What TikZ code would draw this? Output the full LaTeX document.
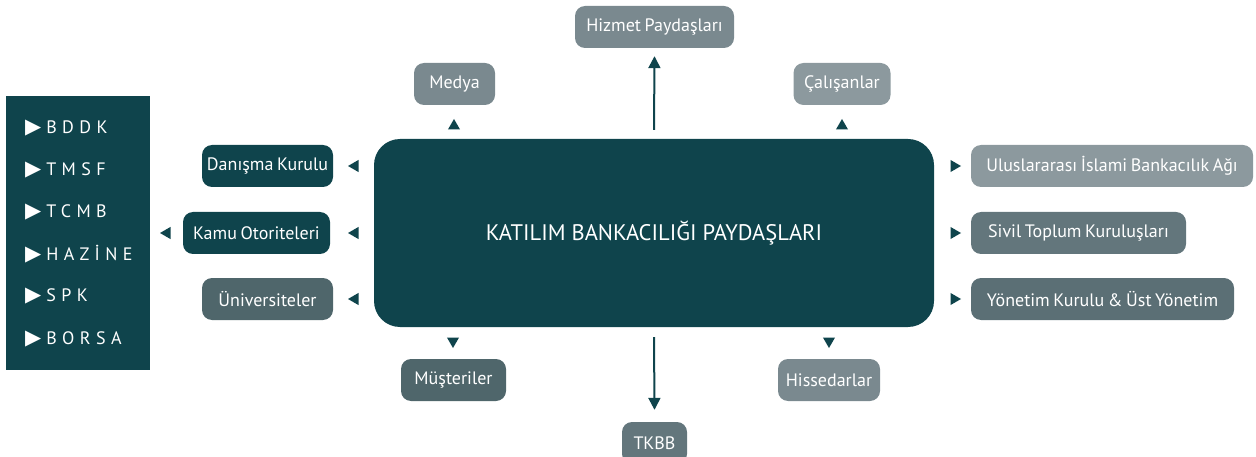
\documentclass[tikz,border=0pt]{standalone}
\usepackage{fontspec}
\setmainfont{PT Sans}
\newfontfamily\symfont{DejaVu Sans}
\usetikzlibrary{shapes.geometric,arrows.meta,calc}
\definecolor{kteal}{HTML}{0F444C}
\definecolor{gA}{HTML}{7A898F}
\definecolor{gB}{HTML}{8C999E}
\definecolor{gC}{HTML}{63767C}
\definecolor{gD}{HTML}{5B6F75}
\definecolor{gE}{HTML}{4F666B}
\newcommand{\boxfont}{\fontsize{18}{20}\selectfont\spaceskip=3.6pt plus 1pt minus 0.5pt\relax}
\begin{document}
\begin{tikzpicture}[x=1pt,y=-1pt,
  box/.style={rounded corners=10pt, minimum height=42pt, inner sep=0pt, text=white,
    font=\boxfont, anchor=center},
  tri/.style={regular polygon, regular polygon sides=3, fill=kteal, minimum size=14pt, inner sep=0pt},
  up/.style={tri, shape border rotate=0},
  dn/.style={tri, shape border rotate=180},
  lf/.style={tri, shape border rotate=90},
  rt/.style={tri, shape border rotate=-90},
  item/.style={anchor=west, text=white, inner sep=0pt, font=\fontsize{18}{20}\selectfont},
  link/.style={draw=kteal, line width=2pt, -{Triangle[length=12pt,width=12pt]}}
]
\useasboundingbox (0,0) rectangle (1256,457);

% left panel
\node[fill=kteal, minimum width=144pt, minimum height=274pt, inner sep=0pt] (panel) at (78,233) {};
\newcommand{\bul}{\raisebox{0.5pt}{\symfont\fontsize{21}{21}\selectfont ▶}\hspace{5pt}}
\newcommand{\spc}[1]{{\addfontfeature{LetterSpace=30}#1}}
\node[item] (bddk)   at (25,128) {\bul\spc{BDDK}};
\node[item] (tmsf)   at (25,170) {\bul\spc{TMSF}};
\node[item] (tcmb)   at (25,212) {\bul\spc{TCMB}};
\node[item] (hazine) at (25,254) {\bul\spc{HAZİNE}};
\node[item] (spk)    at (25,296) {\bul\spc{SPK}};
\node[item] (borsa)  at (25,339) {\bul\spc{BORSA}};

% main box
\node[fill=kteal, rounded corners=26pt, minimum width=560pt, minimum height=188pt, inner sep=0pt,
  text=white, font=\fontsize{22.5}{26}\selectfont] (main) at (654,233) {KATILIM BANKACILIĞI PAYDAŞLARI};

% boxes
\node[box, fill=gA, minimum width=159pt] (hizmet) at (654.5,27) {Hizmet Paydaşları};
\node[box, fill=gA, minimum width=81pt]  (medya)  at (454.5,84) {Medya};
\node[box, fill=gB, minimum width=97pt]  (calis)  at (842,84) {Çalışanlar};
\node[box, fill=kteal, minimum width=131pt] (danisma) at (267.5,166) {Danışma Kurulu};
\node[box, fill=kteal, minimum width=147pt] (kamu) at (256.5,233) {Kamu Otoriteleri};
\node[box, fill=gE, minimum width=131pt] (univ) at (267.5,299) {Üniversiteler};
\node[box, fill=gB, minimum width=282pt] (ulus) at (1112,166) {Uluslararası İslami Bankacılık Ağı};
\node[box, fill=gC, minimum width=215pt] (sivil) at (1078.5,233) {Sivil Toplum Kuruluşları};
\node[box, fill=gD, minimum width=263pt] (yonetim) at (1102.5,299) {Yönetim Kurulu \& Üst Yönetim};
\node[box, fill=gE, minimum width=105pt] (musteri) at (453.5,380) {Müşteriler};
\node[box, fill=gA, minimum width=102pt] (hisse) at (829,380) {Hissedarlar};
\node[box, fill=gC, minimum width=65pt] (tkbb) at (654.5,443) {TKBB};

% triangles
\node[up] (t1) at (454,126) {};
\node[up] (t2) at (842,126) {};
\node[lf] (t3) at (355,166) {};
\node[lf] (t4) at (355,233) {};
\node[lf] (t5) at (355,299) {};
\node[lf] (t6) at (167,233) {};
\node[rt] (t7) at (954,166) {};
\node[rt] (t8) at (954,233) {};
\node[rt] (t9) at (954,299) {};
\node[dn] (t10) at (453,341) {};
\node[dn] (t11) at (829,341) {};

% connectors
\draw[link] ($(main.north)+(0,-9)$) -- ($(hizmet.south)+(0,8)$);
\draw[link] ($(main.south)+(0,10)$) -- ($(tkbb.north)+(0,-12)$);
\end{tikzpicture}
\end{document}
